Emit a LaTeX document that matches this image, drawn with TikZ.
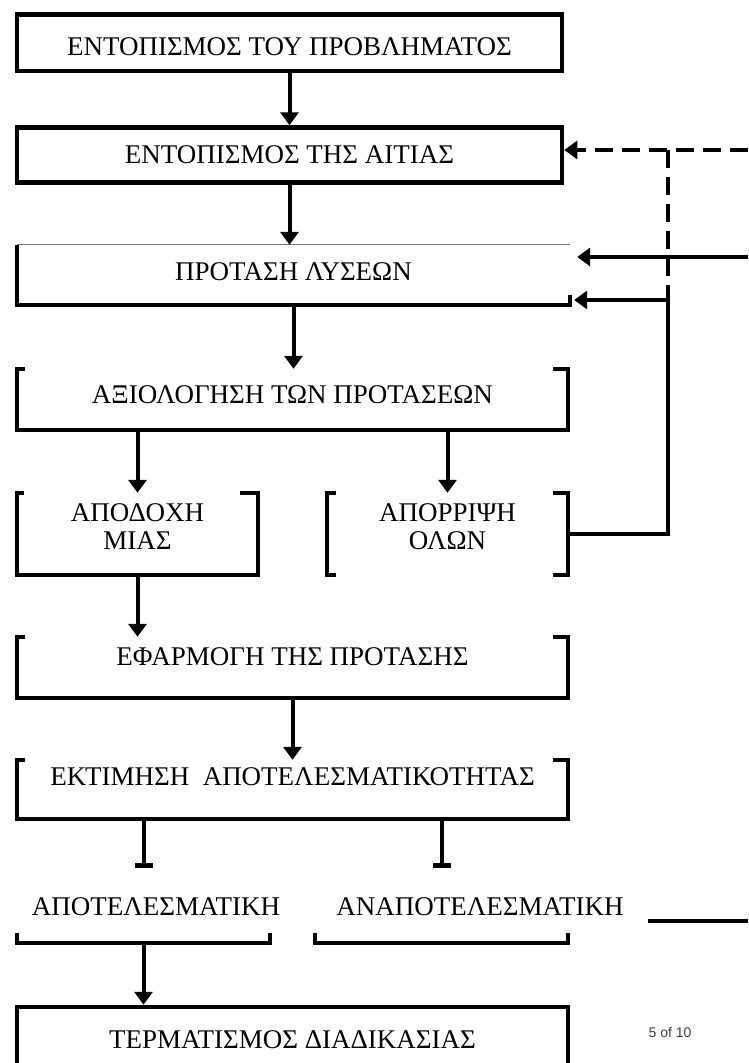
\documentclass[tikz,border=0pt]{standalone}
\usepackage{fontspec}
\setmainfont{Liberation Serif}
\setsansfont{Liberation Sans}
\usetikzlibrary{arrows.meta}

\tikzset{
  box/.style={rectangle, inner sep=0pt, align=center,
    font=\fontsize{27}{28}\selectfont},
  block/.style={box, draw, line width=4.5pt},
  frame/.style={draw, line width=4.5pt},
  thinframe/.style={draw, black!55, line width=1.2pt},
  line/.style={draw, line width=4pt, -{Triangle[length=13pt,width=18pt]}},
  dashline/.style={line, dash pattern=on 18pt off 9pt},
  stopline/.style={draw, line width=4pt, -{Rectangle[length=5pt,width=18pt]}},
  plain/.style={draw, line width=4pt}
}

\begin{document}
\begin{tikzpicture}[x=1pt, y=-1pt, node distance=100pt]
    \useasboundingbox[fill=white] (0,0) rectangle (748,1063);
    % Place nodes
    \node [block, minimum width=545pt, minimum height=56.5pt, text height=40.5pt, text depth=16pt] (prob) at (289.5,42.75) {ΕΝΤΟΠΙΣΜΟΣ ΤΟΥ ΠΡΟΒΛΗΜΑΤΟΣ};
    \node [block, below of=prob, node distance=112.25pt, minimum width=545pt, minimum height=55pt, text height=35.5pt, text depth=19.5pt] (cause) {ΕΝΤΟΠΙΣΜΟΣ ΤΗΣ ΑΙΤΙΑΣ};
    \node [box, below of=cause, node distance=120pt, xshift=4pt, minimum width=553pt, minimum height=60pt, text height=35pt, text depth=25pt] (sol) {ΠΡΟΤΑΣΗ ΛΥΣΕΩΝ};
    \node [box, below of=sol, node distance=124.5pt, xshift=-1pt, minimum width=551pt, minimum height=61pt, text height=34pt, text depth=27pt] (eval) {ΑΞΙΟΛΟΓΗΣΗ ΤΩΝ ΠΡΟΤΑΣΕΩΝ};
    \node [box, below of=eval, node distance=134.5pt, xshift=-155pt, minimum width=241pt, minimum height=82pt, text depth=14pt] (accept) {ΑΠΟΔΟΧΗ\\ΜΙΑΣ};
    \node [box, right of=accept, node distance=310pt, minimum width=241pt, minimum height=82pt, text depth=14pt] (reject) {ΑΠΟΡΡΙΨΗ\\ΟΛΩΝ};
    \node [box, below of=eval, node distance=268pt, minimum width=551pt, minimum height=61pt, text height=28pt, text depth=33pt] (apply) {ΕΦΑΡΜΟΓΗ ΤΗΣ ΠΡΟΤΑΣΗΣ};
    \node [box, below of=apply, node distance=122pt, minimum width=551pt, minimum height=59pt, text height=25pt, text depth=34pt] (assess) {ΕΚΤΙΜΗΣΗ\ \ ΑΠΟΤΕΛΕΣΜΑΤΙΚΟΤΗΤΑΣ};
    \node [box, below of=assess, node distance=116pt, xshift=-136.5pt, text height=47pt, text depth=28pt] (eff) {ΑΠΟΤΕΛΕΣΜΑΤΙΚΗ};
    \node [box, right of=eff, node distance=324pt, text height=47pt, text depth=28pt] (ineff) {ΑΝΑΠΟΤΕΛΕΣΜΑΤΙΚΗ};
    \node [box, below of=eff, node distance=32.5pt, xshift=-12.5pt, minimum width=253pt, minimum height=10pt] (effcup) {};
    \node [box, right of=effcup, node distance=298pt, minimum width=253pt, minimum height=10pt] (ineffcup) {};
    \node [block, below of=effcup, node distance=109pt, xshift=149pt, minimum width=551pt, minimum height=80pt, text height=41pt, text depth=39pt] (term) {ΤΕΡΜΑΤΙΣΜΟΣ ΔΙΑΔΙΚΑΣΙΑΣ};
    \node [font=\sffamily\fontsize{14}{14}\selectfont, text=black!75, inner sep=0pt] (page) at (670,1032) {5 of 10};

    \coordinate (feeddash) at (748,150);
    \coordinate (feedsol) at (748,257);
    \coordinate (loop) at (668,300);
    \coordinate (exitA) at (648,921);
    \coordinate (exitB) at (748,921);

    % open frames
    \path [thinframe] (sol.north west) -- (sol.north east);
    \path [frame] (sol.north west) -- (sol.south west) -- (sol.south east) -- ([yshift=10pt]sol.south east);
    \path [frame] ([xshift=8pt]eval.north west) -- (eval.north west) -- (eval.south west) -- (eval.south east) -- (eval.north east) -- ([xshift=-15pt]eval.north east);
    \path [frame] ([xshift=7pt]accept.north west) -- (accept.north west) -- (accept.south west) -- (accept.south east) -- (accept.north east) -- ([xshift=-18pt]accept.north east);
    \path [frame] ([xshift=9pt]reject.north west) -- (reject.north west) -- (reject.south west) -- ([xshift=9pt]reject.south west);
    \path [frame] ([xshift=-15pt]reject.north east) -- (reject.north east) -- (reject.south east) -- ([xshift=-15pt]reject.south east);
    \path [frame] ([xshift=8pt]apply.north west) -- (apply.north west) -- (apply.south west) -- (apply.south east) -- (apply.north east) -- ([xshift=-15pt]apply.north east);
    \path [frame] ([xshift=8pt]assess.north west) -- (assess.north west) -- (assess.south west) -- (assess.south east) -- (assess.north east) -- ([xshift=-15pt]assess.north east);
    \path [frame] (effcup.north west) -- (effcup.south west) -- (effcup.south east) -- (effcup.north east);
    \path [frame] (ineffcup.north west) -- (ineffcup.south west) -- (ineffcup.south east) -- (ineffcup.north east);

    % connectors
    \path [line] (prob) -- (cause);
    \path [line] (cause.south) -- (cause.south |- sol.north);
    \path [line] (sol.south) -- (sol.south |- eval.north);
    \path [line] (eval.south -| accept) -- (accept);
    \path [line] (eval.south -| reject) -- (reject);
    \path [line] (accept) -- (accept |- apply.north);
    \path [line] (apply) -- (assess);
    \path [stopline] (assess.south -| effcup) -- (effcup |- eff.north);
    \path [stopline] (assess.south -| ineffcup) -- (ineffcup |- ineff.north);
    \path [line] (effcup.south) -- (effcup.south |- term.north);
    \path [dashline] (feeddash) -- (feeddash -| cause.east);
    \path [plain, dash pattern=on 18pt off 9pt] (feeddash -| loop) -- (loop);
    \path [line, shorten >=7pt] (feedsol) -- (feedsol -| sol.east);
    \path [line, shorten >=4pt] (reject.east) -| (loop) -- (loop -| sol.east);
    \path [plain] (exitA) -- (exitB);
\end{tikzpicture}
\end{document}
